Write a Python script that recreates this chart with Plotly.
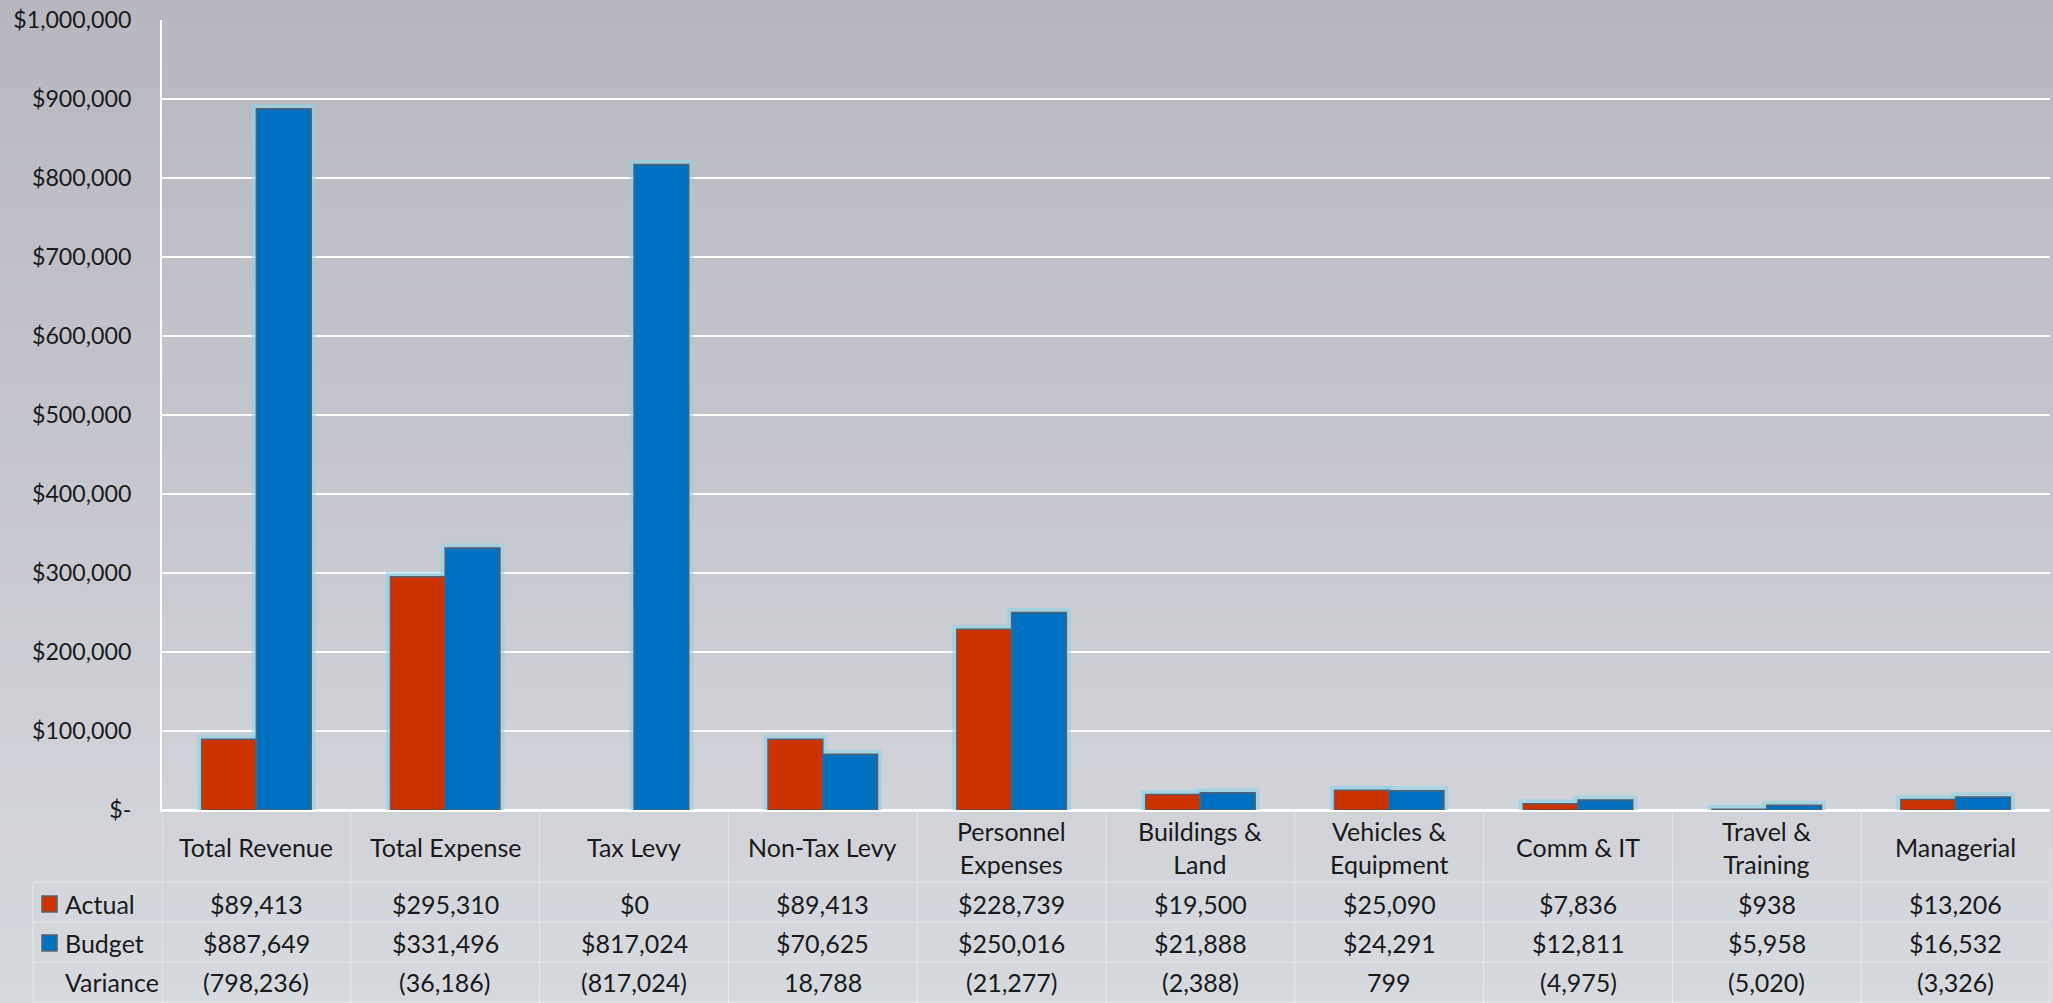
import plotly.graph_objects as go

# ---------------- data ----------------
categories = ["Total Revenue", "Total Expense", "Tax Levy", "Non-Tax Levy", "Personnel Expenses",
              "Buildings & Land", "Vehicles & Equipment", "Comm & IT", "Travel & Training", "Managerial"]
category_labels = ["Total Revenue", "Total Expense", "Tax Levy", "Non-Tax Levy", "Personnel<br>Expenses",
                   "Buildings &<br>Land", "Vehicles &<br>Equipment", "Comm & IT", "Travel &<br>Training", "Managerial"]
actual = [89413, 295310, 0, 89413, 228739, 19500, 25090, 7836, 938, 13206]
budget = [887649, 331496, 817024, 70625, 250016, 21888, 24291, 12811, 5958, 16532]
variance = [-798236, -36186, -817024, 18788, -21277, -2388, 799, -4975, -5020, -3326]
y_ticks = [0, 100000, 200000, 300000, 400000, 500000, 600000, 700000, 800000, 900000, 1000000]

# ---------------- layout geometry (pixels) ----------------
W, H = 2053, 1003
L, R, T, B = 162, 3, 20, 193
plot_h = H - T - B
plot_w = W - L - R


def py(pix):
    """pixel y (from top) -> paper y"""
    return (H - B - pix) / plot_h


def px(pix):
    return (pix - L) / plot_w


FONT = "Lato, 'Open Sans', sans-serif"
FS = 25
TXT = "#1a1a1a"
RED = "#CC3300"
BLUE = "#0070C0"
OUTLINE = "#56606e"
GLOW = "rgba(140,212,230,0.6)"

fig = go.Figure()

x_idx = list(range(len(categories)))
BW = 0.29
for vals, off, name in [(actual, -BW, "Actual"), (budget, 0.0, "Budget")]:
    # glow
    fig.add_trace(go.Bar(x=x_idx, y=vals, offset=off, width=BW, name=name + " glow",
                         marker=dict(color="rgba(0,0,0,0)",
                                     line=dict(color=GLOW, width=[9 if v > 0 else 0 for v in vals])),
                         showlegend=False, hoverinfo="skip"))
for vals, color, off, name in [(actual, RED, -BW, "Actual"), (budget, BLUE, 0.0, "Budget")]:
    fig.add_trace(go.Bar(x=x_idx, y=vals, offset=off, width=BW, name=name,
                         marker=dict(color=color,
                                     line=dict(color=OUTLINE, width=[1.5 if v > 0 else 0 for v in vals])),
                         showlegend=False))

shapes = []
# background gradient
top_c = (183, 183, 192)
bot_c = (214, 217, 222)
N = 50
for i in range(N):
    f = i / (N - 1)
    c = tuple(round(top_c[k] + (bot_c[k] - top_c[k]) * f) for k in range(3))
    y0p = H * i / N
    y1p = H * (i + 1) / N + 1
    shapes.append(dict(type="rect", xref="paper", yref="paper", layer="below",
                       x0=px(0), x1=px(W), y0=py(y1p), y1=py(y0p),
                       line=dict(width=0), fillcolor="rgb(%d,%d,%d)" % c))

# table grid
tline = dict(color="rgba(255,255,255,0.45)", width=1)
for yp in [882, 922, 962, 1002]:
    shapes.append(dict(type="line", xref="paper", yref="paper", x0=px(33), x1=1,
                       y0=py(yp), y1=py(yp), line=tline))
for i in range(len(categories) + 1):
    shapes.append(dict(type="line", xref="x", yref="paper", x0=i - 0.5, x1=i - 0.5,
                       y0=py(811), y1=py(1003), line=tline))
shapes.append(dict(type="line", xref="paper", yref="paper", x0=px(33), x1=px(33),
                   y0=py(882), y1=py(1003), line=tline))

# legend keys in table
for ypix, color in [(904, RED), (943, BLUE)]:
    shapes.append(dict(type="rect", xref="paper", yref="paper",
                       x0=px(42), x1=px(57), y0=py(ypix + 8), y1=py(ypix - 8),
                       fillcolor=color, line=dict(color=OUTLINE, width=1.5)))

annotations = []
row_y = {"Actual": 904, "Budget": 943, "Variance": 982}
for name, ypix in row_y.items():
    annotations.append(dict(xref="paper", yref="paper", x=px(63), y=py(ypix), text=name,
                            showarrow=False, xanchor="left", yanchor="middle",
                            font=dict(family=FONT, size=FS, color=TXT)))


def money(v):
    return "${:,}".format(v)


def var_fmt(v):
    return "({:,})".format(-v) if v < 0 else "{:,}".format(v)


for i, lab in enumerate(category_labels):
    annotations.append(dict(xref="x", yref="paper", x=i, y=py(847), text=lab, showarrow=False,
                            xanchor="center", yanchor="middle",
                            font=dict(family=FONT, size=FS, color=TXT)))
    annotations.append(dict(xref="x", yref="paper", x=i, y=py(row_y["Actual"]), text=money(actual[i]),
                            showarrow=False, xanchor="center", yanchor="middle",
                            font=dict(family=FONT, size=FS, color=TXT)))
    annotations.append(dict(xref="x", yref="paper", x=i, y=py(row_y["Budget"]), text=money(budget[i]),
                            showarrow=False, xanchor="center", yanchor="middle",
                            font=dict(family=FONT, size=FS, color=TXT)))
    annotations.append(dict(xref="x", yref="paper", x=i, y=py(row_y["Variance"]), text=var_fmt(variance[i]),
                            showarrow=False, xanchor="center", yanchor="middle",
                            font=dict(family=FONT, size=FS, color=TXT)))

tick_text = ["$-" if v == 0 else "${:,}".format(v) for v in y_ticks]

fig.update_layout(
    width=W, height=H,
    margin=dict(l=L, r=R, t=T, b=B, pad=0),
    paper_bgcolor="rgb(200,201,208)",
    plot_bgcolor="rgba(0,0,0,0)",
    barmode="overlay",
    showlegend=False,
    shapes=shapes,
    annotations=annotations,
    font=dict(family=FONT, size=FS, color=TXT),
    xaxis=dict(range=[-0.5, len(categories) - 0.5], showticklabels=False, showgrid=False,
               zeroline=False, showline=True, linecolor="white", linewidth=2, ticks=""),
    yaxis=dict(range=[0, 1000000], tickvals=y_ticks, ticktext=tick_text,
               showgrid=True, gridcolor="white", gridwidth=2,
               zeroline=True, zerolinecolor="white", zerolinewidth=2,
               showline=True, linecolor="white", linewidth=2, ticks="",
               ticklabelstandoff=24,
               tickfont=dict(family=FONT, size=23.2, color=TXT)),
)

fig.write_html("out.html", config={"displayModeBar": False},
               post_script="document.body.style.margin='0';document.body.style.overflow='hidden';")
